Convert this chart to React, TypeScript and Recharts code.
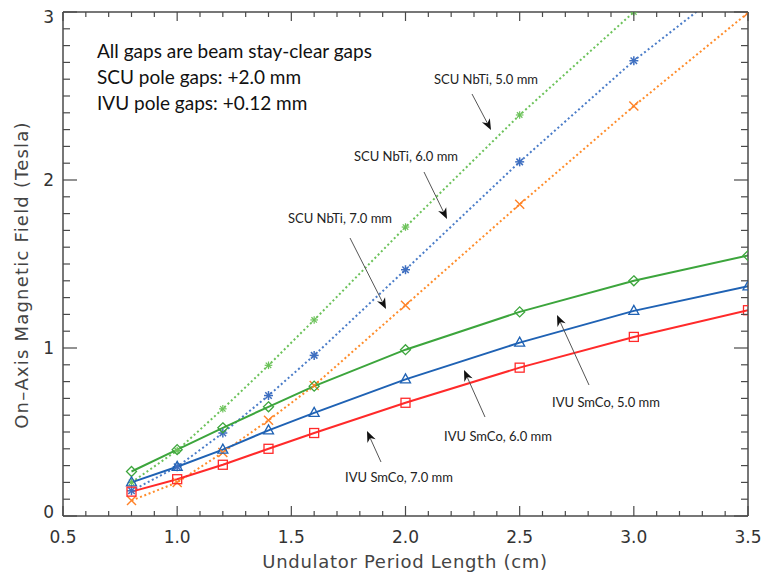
import React from 'react';
import { LineChart, Line, XAxis, YAxis } from 'recharts';

// undulator period (cm)
const periods = [0.8, 1.0, 1.2, 1.4, 1.6, 2.0, 2.5, 3.0, 3.5];

// IVU SmCo, solid lines
const ivu5 = [0.265, 0.395, 0.525, 0.65, 0.773, 0.99, 1.215, 1.4, 1.55];
const ivu6 = [0.2, 0.293, 0.395, 0.51, 0.614, 0.813, 1.032, 1.221, 1.367];
const ivu7 = [0.145, 0.219, 0.305, 0.4, 0.494, 0.674, 0.883, 1.066, 1.225];

// SCU NbTi, dotted lines
const scu5 = [0.2, 0.39, 0.638, 0.897, 1.167, 1.72, 2.387, 3.0, null];
const scu6 = [0.15, 0.293, 0.494, 0.717, 0.956, 1.466, 2.108, 2.71, 3.24];
const scu7 = [0.092, 0.2, 0.378, 0.57, 0.777, 1.255, 1.855, 2.44, 2.995];

const xMajor = [0.5, 1.0, 1.5, 2.0, 2.5, 3.0, 3.5];
const xLabels = ['0.5', '1.0', '1.5', '2.0', '2.5', '3.0', '3.5'];
const yMajor = [0, 1, 2, 3];
const yLabels = ['0', '1', '2', '3'];

// minor ticks every 0.1
const xTicks: number[] = [];
for (let k = 5; k <= 35; k++) xTicks.push(k / 10);
const yTicks: number[] = [];
for (let k = 0; k <= 30; k++) yTicks.push(k / 10);

const rows = periods.map((p, i) => ({
  x: p,
  ivu5: ivu5[i],
  ivu6: ivu6[i],
  ivu7: ivu7[i],
  scu5: scu5[i],
  scu6: scu6[i],
  scu7: scu7[i],
}));

const AXIS = '#4a4a4a';
const TICKFONT = 'DejaVu Sans';

const isMajor = (v: number, majors: number[]) => majors.some((m) => Math.abs(m - v) < 1e-6);

const BottomTick = (props: any) => {
  const { x, y, payload } = props;
  const major = isMajor(payload.value, xMajor);
  const idx = xMajor.findIndex((m) => Math.abs(m - payload.value) < 1e-6);
  return (
    <g>
      <line x1={x} x2={x} y1={y} y2={y - (major ? 10 : 5)} stroke={AXIS} strokeWidth={1.2} />
      {major && (
        <text x={x} y={y + 27} textAnchor="middle" fontFamily={TICKFONT} fontSize={17} fill="#333">
          {xLabels[idx]}
        </text>
      )}
    </g>
  );
};

const TopTick = (props: any) => {
  const { x, y, payload } = props;
  const major = isMajor(payload.value, xMajor);
  return <line x1={x} x2={x} y1={y} y2={y + (major ? 9 : 5)} stroke={AXIS} strokeWidth={1.2} />;
};

const LeftTick = (props: any) => {
  const { x, y, payload } = props;
  const major = isMajor(payload.value, yMajor);
  const idx = yMajor.findIndex((m) => Math.abs(m - payload.value) < 1e-6);
  return (
    <g>
      <line x1={x} x2={x + (major ? 14 : 7)} y1={y} y2={y} stroke={AXIS} strokeWidth={1.2} />
      {major && (
        <text
          x={x - 9}
          y={Math.min(Math.max(y + 6, 23), 518)}
          textAnchor="end"
          fontFamily={TICKFONT}
          fontSize={17}
          fill="#333"
        >
          {yLabels[idx]}
        </text>
      )}
    </g>
  );
};

const RightTick = (props: any) => {
  const { x, y, payload } = props;
  const major = isMajor(payload.value, yMajor);
  return <line x1={x} x2={x - (major ? 14 : 7)} y1={y} y2={y} stroke={AXIS} strokeWidth={1.2} />;
};

type Shape = 'diamond' | 'triangle' | 'square' | 'cross' | 'star' | 'plus';

const makeDot = (shape: Shape, color: string) => (props: any) => {
  const { cx, cy, index } = props;
  if (cx == null || cy == null || isNaN(cx) || isNaN(cy)) return <g key={`n${index}`} />;
  const s = 1.3;
  let el: React.ReactNode = null;
  if (shape === 'diamond') {
    el = <polygon points={`${cx},${cy - 5} ${cx + 5},${cy} ${cx},${cy + 5} ${cx - 5},${cy}`} fill="none" stroke={color} strokeWidth={s} />;
  } else if (shape === 'triangle') {
    el = <polygon points={`${cx},${cy - 5.5} ${cx + 5},${cy + 3.5} ${cx - 5},${cy + 3.5}`} fill="none" stroke={color} strokeWidth={s} />;
  } else if (shape === 'square') {
    el = <rect x={cx - 4.5} y={cy - 4.5} width={9} height={9} fill="none" stroke={color} strokeWidth={s} />;
  } else if (shape === 'cross') {
    el = (
      <g stroke={color} strokeWidth={1.4}>
        <line x1={cx - 4.5} y1={cy - 4.5} x2={cx + 4.5} y2={cy + 4.5} />
        <line x1={cx - 4.5} y1={cy + 4.5} x2={cx + 4.5} y2={cy - 4.5} />
      </g>
    );
  } else {
    const r = shape === 'star' ? 4.5 : 3.8;
    el = (
      <g stroke={color} strokeWidth={shape === 'star' ? 1.5 : 1.2}>
        <line x1={cx - r} y1={cy} x2={cx + r} y2={cy} />
        <line x1={cx} y1={cy - r} x2={cx} y2={cy + r} />
        <line x1={cx - r * 0.72} y1={cy - r * 0.72} x2={cx + r * 0.72} y2={cy + r * 0.72} />
        <line x1={cx - r * 0.72} y1={cy + r * 0.72} x2={cx + r * 0.72} y2={cy - r * 0.72} />
      </g>
    );
  }
  return <g key={`d${index}`}>{el}</g>;
};

const Arrow = ({ x1, y1, x2, y2 }: { x1: number; y1: number; x2: number; y2: number }) => {
  const a = Math.atan2(y2 - y1, x2 - x1);
  const L = 11;
  const W = 4.5;
  const bx = x2 - L * Math.cos(a);
  const by = y2 - L * Math.sin(a);
  const nx = -Math.sin(a);
  const ny = Math.cos(a);
  const mx = x2 - L * 0.7 * Math.cos(a);
  const my = y2 - L * 0.7 * Math.sin(a);
  return (
    <g>
      <line x1={x1} y1={y1} x2={mx} y2={my} stroke="#555" strokeWidth={1} />
      <polygon
        points={`${x2},${y2} ${bx + nx * W},${by + ny * W} ${mx},${my} ${bx - nx * W},${by - ny * W}`}
        fill="#111"
      />
    </g>
  );
};

const notes = [
  { text: 'SCU NbTi, 5.0 mm', x: 486, y: 84, a: [472, 94, 491, 130] },
  { text: 'SCU NbTi, 6.0 mm', x: 406, y: 161, a: [424, 172, 447, 219] },
  { text: 'SCU NbTi, 7.0 mm', x: 340, y: 223, a: [350, 238, 386, 309] },
  { text: 'IVU SmCo, 5.0 mm', x: 606, y: 407, a: [589, 385, 557, 315] },
  { text: 'IVU SmCo, 6.0 mm', x: 498, y: 441, a: [485, 417, 464, 370] },
  { text: 'IVU SmCo, 7.0 mm', x: 399, y: 482, a: [381, 462, 367, 431] },
];

const infoLines = ['All gaps are beam stay-clear gaps', 'SCU pole gaps: +2.0 mm', 'IVU pole gaps: +0.12 mm'];

export default function App() {
  return (
    <div style={{ position: 'absolute', left: 0, top: 0, width: 764, height: 573, background: '#fff' }}>
      <LineChart width={764} height={573} data={rows} margin={{ top: 11, right: 15, bottom: 56, left: 62 }}>
        <XAxis
          xAxisId="b"
          type="number"
          dataKey="x"
          domain={[0.5, 3.5]}
          allowDataOverflow
          ticks={xTicks}
          interval={0}
          tick={BottomTick}
          tickLine={false}
          tickSize={0}
          tickMargin={0}
          height={1}
          axisLine={{ stroke: AXIS, strokeWidth: 1.5 }}
        />
        <XAxis
          xAxisId="t"
          orientation="top"
          type="number"
          dataKey="x"
          domain={[0.5, 3.5]}
          allowDataOverflow
          ticks={xTicks}
          interval={0}
          tick={TopTick}
          tickLine={false}
          tickSize={0}
          tickMargin={0}
          height={1}
          axisLine={{ stroke: AXIS, strokeWidth: 1.5 }}
        />
        <YAxis
          yAxisId="l"
          type="number"
          domain={[0, 3]}
          allowDataOverflow
          ticks={yTicks}
          interval={0}
          tick={LeftTick}
          tickLine={false}
          tickSize={0}
          tickMargin={0}
          width={1}
          axisLine={{ stroke: AXIS, strokeWidth: 1.5 }}
        />
        <YAxis
          yAxisId="r"
          orientation="right"
          type="number"
          domain={[0, 3]}
          allowDataOverflow
          ticks={yTicks}
          interval={0}
          tick={RightTick}
          tickLine={false}
          tickSize={0}
          tickMargin={0}
          width={1}
          axisLine={{ stroke: AXIS, strokeWidth: 1.5 }}
        />

        <Line xAxisId="b" yAxisId="l" dataKey="scu5" type="linear" stroke="#6cc25a" strokeWidth={2} strokeDasharray="2 2.6" dot={makeDot('plus', '#6cc25a')} isAnimationActive={false} connectNulls={false} />
        <Line xAxisId="b" yAxisId="l" dataKey="scu6" type="linear" stroke="#4a7cc8" strokeWidth={2} strokeDasharray="2 2.6" dot={makeDot('star', '#3f6fc0')} isAnimationActive={false} />
        <Line xAxisId="b" yAxisId="l" dataKey="scu7" type="linear" stroke="#ff8c2a" strokeWidth={2} strokeDasharray="2 2.6" dot={makeDot('cross', '#ff8228')} isAnimationActive={false} />

        <Line xAxisId="b" yAxisId="l" dataKey="ivu5" type="linear" stroke="#3ca53c" strokeWidth={2} dot={makeDot('diamond', '#3ca53c')} isAnimationActive={false} />
        <Line xAxisId="b" yAxisId="l" dataKey="ivu6" type="linear" stroke="#1f62b4" strokeWidth={2} dot={makeDot('triangle', '#1f62b4')} isAnimationActive={false} />
        <Line xAxisId="b" yAxisId="l" dataKey="ivu7" type="linear" stroke="#ff2a2a" strokeWidth={2} dot={makeDot('square', '#ff2a2a')} isAnimationActive={false} />
      </LineChart>

      <svg
        width={764}
        height={573}
        style={{ position: 'absolute', left: 0, top: 0, pointerEvents: 'none' }}
      >
        {infoLines.map((t, i) => (
          <text key={t} x={97} y={58 + i * 26} fontFamily="Lato" fontSize={19} fill="#111">
            {t}
          </text>
        ))}
        {notes.map((n) => (
          <g key={n.text}>
            <text x={n.x} y={n.y} textAnchor="middle" fontFamily="Lato" fontSize={13} fill="#222">
              {n.text}
            </text>
            <Arrow x1={n.a[0]} y1={n.a[1]} x2={n.a[2]} y2={n.a[3]} />
          </g>
        ))}
        <text
          x={405}
          y={568}
          textAnchor="middle"
          fontFamily="DejaVu Sans"
          fontSize={18}
          letterSpacing={0.7}
          fill="#444"
        >
          Undulator Period Length (cm)
        </text>
        <text
          transform="translate(22,275) rotate(-90)"
          y={6}
          textAnchor="middle"
          fontFamily="DejaVu Sans"
          fontSize={18}
          letterSpacing={1.2}
          fill="#444"
        >
          On–Axis Magnetic Field (Tesla)
        </text>
      </svg>
    </div>
  );
}
